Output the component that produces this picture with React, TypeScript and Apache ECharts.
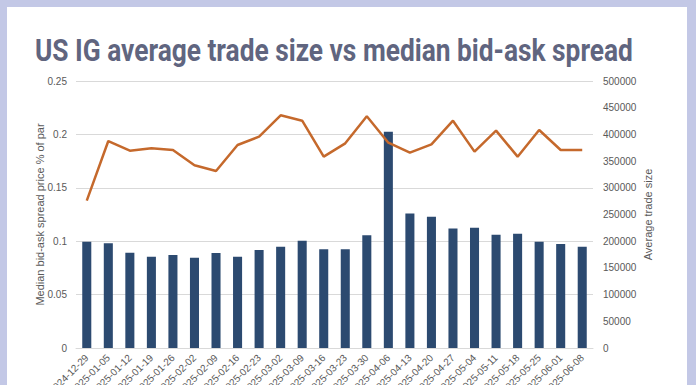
import React, { useEffect, useRef } from "react";
import * as echarts from "echarts";

const categories = [
  "2024-12-29", "2025-01-05", "2025-01-12", "2025-01-19", "2025-01-26", "2025-02-02",
  "2025-02-09", "2025-02-16", "2025-02-23", "2025-03-02", "2025-03-09", "2025-03-16",
  "2025-03-23", "2025-03-30", "2025-04-06", "2025-04-13", "2025-04-20", "2025-04-27",
  "2025-05-04", "2025-05-11", "2025-05-18", "2025-05-25", "2025-06-01", "2025-06-08",
];

const spreadValues = [
  0.0995, 0.098, 0.0893, 0.0855, 0.087, 0.0846, 0.089, 0.0855, 0.0918, 0.0949, 0.1005, 0.0924,
  0.0924, 0.1055, 0.2025, 0.126, 0.123, 0.112, 0.1127, 0.106, 0.107, 0.0995, 0.0974, 0.0949,
];

const tradeSizeValues = [
  276000, 387600, 369500, 374000, 370800, 342100, 331500, 380200, 395700, 435700, 425700, 358300,
  383300, 433900, 384500, 365800, 381400, 425700, 367700, 407000, 358300, 408300, 370800, 370800,
];

const titleText = "US IG average trade size vs median bid-ask spread";
const leftAxisName = "Median bid-ask spread price % of par";
const rightAxisName = "Average trade size";

export default function App() {
  const ref = useRef<HTMLDivElement>(null);

  useEffect(() => {
    document.body.style.margin = "0";
    if (!ref.current) return;
    const chart = echarts.init(ref.current, undefined, { renderer: "svg" });

    const titleFont = "bold 32px Roboto";
    let scaleX = 0.75;
    try {
      const c = document.createElement("canvas").getContext("2d");
      if (c) {
        c.font = titleFont;
        const w = c.measureText(titleText).width;
        if (w > 0) scaleX = 598 / w;
      }
    } catch (e) {}

    const labelColor = "#595959";
    chart.setOption({
      animation: false,
      backgroundColor: "#c3c8e6",
      graphic: [
        {
          type: "rect",
          z: -10,
          shape: { x: 7, y: 7, width: 680, height: 390 },
          style: { fill: "#ffffff" },
          silent: true,
        },
        {
          type: "text",
          x: 35,
          y: 50,
          scaleX: scaleX,
          style: {
            text: titleText,
            font: titleFont,
            fontFamily: "Roboto",
            fontWeight: "bold",
            fontSize: 32,
            fill: "#60657f",
            verticalAlign: "middle",
            align: "left",
          },
        },
      ],
      grid: { left: 76, right: 103, top: 81, bottom: 37, containLabel: false, outerBoundsMode: "none" },
      xAxis: {
        type: "category",
        data: categories,
        axisLine: { lineStyle: { color: "#d9d9d9" } },
        axisTick: { show: false },
        axisLabel: {
          interval: 0,
          rotate: 45,
          fontSize: 10,
          color: labelColor,
          fontFamily: "Liberation Sans",
          margin: 8,
        },
      },
      yAxis: [
        {
          type: "value",
          min: 0,
          max: 0.25,
          interval: 0.05,
          name: leftAxisName,
          nameLocation: "middle",
          nameRotate: 90,
          nameGap: 31,
          nameMoveOverlap: false,
          nameTextStyle: { fontSize: 11, color: labelColor, fontFamily: "Liberation Sans" },
          axisLine: { show: false },
          axisTick: { show: false },
          axisLabel: { fontSize: 10, color: labelColor, margin: 9, fontFamily: "Liberation Sans" },
          splitLine: { lineStyle: { color: "#d9d9d9" } },
        },
        {
          type: "value",
          min: 0,
          max: 500000,
          interval: 50000,
          name: rightAxisName,
          nameLocation: "middle",
          nameRotate: 90,
          nameGap: 49,
          nameMoveOverlap: false,
          nameTextStyle: { fontSize: 11, color: labelColor, fontFamily: "Liberation Sans" },
          axisLine: { show: false },
          axisTick: { show: false },
          axisLabel: {
            fontSize: 10,
            color: labelColor,
            margin: 10,
            fontFamily: "Liberation Sans",
            formatter: (v: number) => String(v),
          },
          splitLine: { show: false },
        },
      ],
      series: [
        {
          type: "bar",
          name: "Median bid-ask spread",
          yAxisIndex: 0,
          data: spreadValues,
          barWidth: "42%",
          itemStyle: { color: "#2c4a70" },
        },
        {
          type: "line",
          name: "Average trade size",
          yAxisIndex: 1,
          data: tradeSizeValues,
          symbol: "none",
          lineStyle: { color: "#c5692c", width: 2.5 },
        },
      ],
    });
    return () => chart.dispose();
  }, []);

  return (
    <div style={{ position: "fixed", left: 0, top: 0, width: 696, height: 385 }}>
      <div ref={ref} style={{ width: 696, height: 385 }} />
    </div>
  );
}
